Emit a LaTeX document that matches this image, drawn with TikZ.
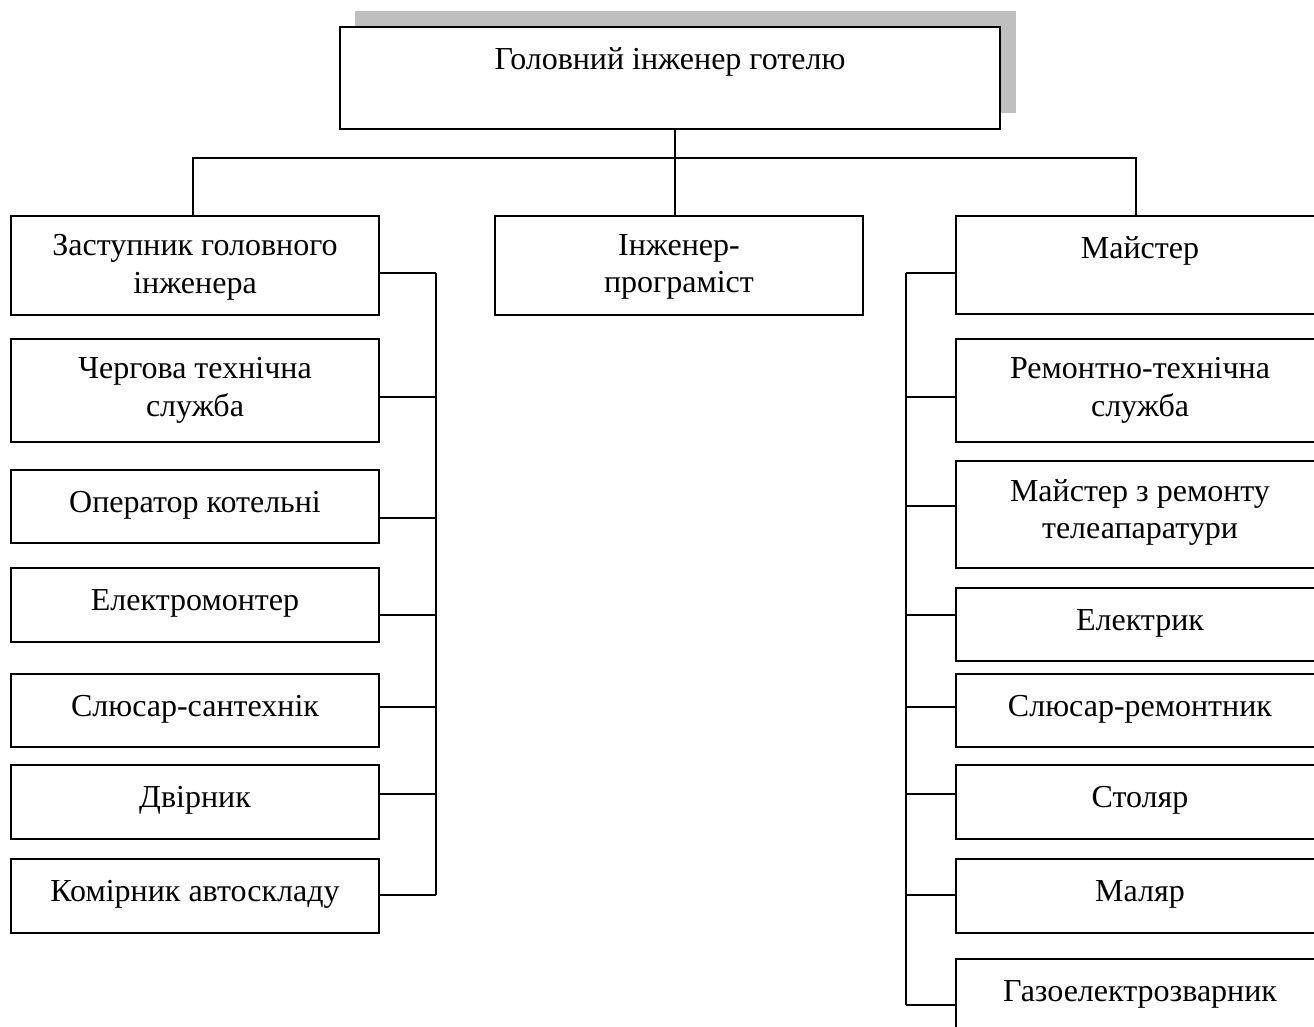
\documentclass[tikz,border=0pt]{standalone}
\usepackage{fontspec}
\setmainfont{Liberation Serif}
\begin{document}
\begin{tikzpicture}[x=0.5pt, y=-0.5pt]
\tikzset{
  unitbox/.style={draw, fill=white, line width=1pt, inner sep=0pt, outer sep=0pt,
    anchor=north west, minimum width=184pt},
  caption/.style={anchor=north, inner sep=0pt, align=center,
    font=\fontsize{16}{18.75}\selectfont,
    execute at begin node={\rule{0pt}{12pt}}},
  wire/.style={line width=0.8pt},
}
\useasboundingbox (0,0) rectangle (1314,1027);
\clip (0,0) rectangle (1314,1027);

% head of the service with its shadow
\fill[black!25] (355,11) rectangle (1016,113);
\node[unitbox, minimum width=330pt, minimum height=51pt] (top) at (340,27) {};
\node[caption] (top-t) at ([yshift=-9pt]top.north) {Головний інженер готелю};

% second level
\node[unitbox, minimum height=49.5pt] (zast) at (11,216) {};
\node[caption] (zast-t) at ([yshift=-9pt]zast.north) {Заступник головного\\інженера};
\node[unitbox, minimum height=49.5pt] (prog) at (495,216) {};
\node[caption] (prog-t) at ([yshift=-9pt]prog.north) {Інженер-\\програміст};
\node[unitbox, minimum height=49pt] (maist) at (956,216) {};
\node[caption] (maist-t) at ([yshift=-9pt]maist.north) {Майстер};

% left column
\node[unitbox, minimum height=51.5pt] (cherg) at (11,339) {};
\node[caption] (cherg-t) at ([yshift=-9pt]cherg.north) {Чергова технічна\\служба};
\node[unitbox, minimum height=36.5pt] (oper) at (11,470) {};
\node[caption] (oper-t) at ([yshift=-9pt]oper.north) {Оператор котельні};
\node[unitbox, minimum height=37pt] (elmon) at (11,568) {};
\node[caption] (elmon-t) at ([yshift=-9pt]elmon.north) {Електромонтер};
\node[unitbox, minimum height=36.5pt] (slsant) at (11,674) {};
\node[caption] (slsant-t) at ([yshift=-9pt]slsant.north) {Слюсар-сантехнік};
\node[unitbox, minimum height=37pt] (dvir) at (11,765) {};
\node[caption] (dvir-t) at ([yshift=-9pt]dvir.north) {Двірник};
\node[unitbox, minimum height=37pt] (komir) at (11,859) {};
\node[caption] (komir-t) at ([yshift=-9pt]komir.north) {Комірник автоскладу};

% right column
\node[unitbox, minimum height=51.5pt] (remt) at (956,339) {};
\node[caption] (remt-t) at ([yshift=-9pt]remt.north) {Ремонтно-технічна\\служба};
\node[unitbox, minimum height=53.5pt] (tele) at (956,461) {};
\node[caption] (tele-t) at ([yshift=-9pt]tele.north) {Майстер з ремонту\\телеапаратури};
\node[unitbox, minimum height=36.5pt] (elek) at (956,588) {};
\node[caption] (elek-t) at ([yshift=-9pt]elek.north) {Електрик};
\node[unitbox, minimum height=36.5pt] (slrem) at (956,674) {};
\node[caption] (slrem-t) at ([yshift=-9pt]slrem.north) {Слюсар-ремонтник};
\node[unitbox, minimum height=37pt] (stol) at (956,765) {};
\node[caption] (stol-t) at ([yshift=-9pt]stol.north) {Столяр};
\node[unitbox, minimum height=37pt] (malyar) at (956,859) {};
\node[caption] (malyar-t) at ([yshift=-9pt]malyar.north) {Маляр};
\node[unitbox, minimum height=36.5pt] (gazo) at (956,959) {};
\node[caption] (gazo-t) at ([yshift=-9pt]gazo.north) {Газоелектрозварник};

% main bus under the head
\coordinate (busL) at (193,158);
\coordinate (busM) at (675,158);
\coordinate (busR) at (1136,158);
\draw[wire] (top.south -| busM) -- (prog.north -| busM);
\draw[wire] (zast.north -| busL) -- (busL) -- (busR) -- (maist.north -| busR);

% left bus
\foreach \n/\y in {1/273, 2/397, 3/518, 4/615, 5/707, 6/794, 7/895}
  \coordinate (L\n) at (436,\y);
\draw[wire] (L1) -- (L7);
\foreach \b/\n in {zast/1, cherg/2, oper/3, elmon/4, slsant/5, dvir/6, komir/7}
  \draw[wire] (\b.east |- L\n) -- (L\n);

% right bus
\foreach \n/\y in {1/273, 2/397, 3/506, 4/615, 5/707, 6/794, 7/895, 8/1005}
  \coordinate (R\n) at (906,\y);
\draw[wire] (R1) -- (R8);
\foreach \b/\n in {maist/1, remt/2, tele/3, elek/4, slrem/5, stol/6, malyar/7, gazo/8}
  \draw[wire] (R\n) -- (\b.west |- R\n);
\end{tikzpicture}
\end{document}
